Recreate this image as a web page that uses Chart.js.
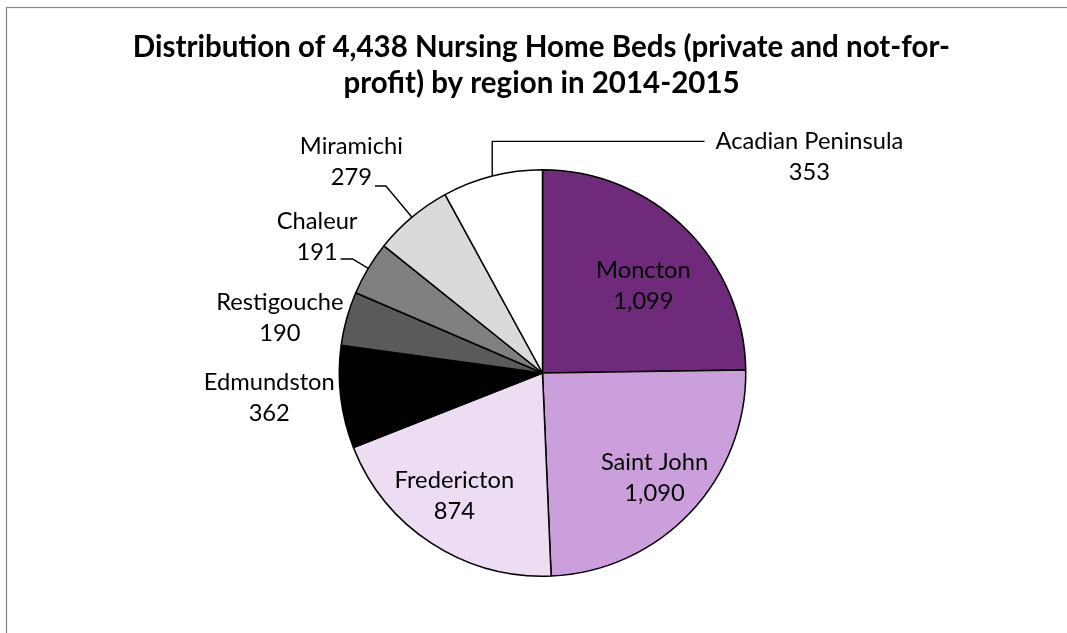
<!DOCTYPE html>
<html>
<head>
<meta charset="utf-8">
<script src="https://cdn.jsdelivr.net/npm/chart.js@4.4.0/dist/chart.umd.min.js"></script>
<style>
  html, body { margin: 0; padding: 0; background: #fff; }
  #wrap { width: 1067px; height: 633px; }
</style>
</head>
<body>
<div id="wrap"><canvas id="pieChart"></canvas></div>
<script>
// Datos del gráfico
const titleLines = ['Distribution of 4,438 Nursing Home Beds (private and not-for-', 'profit) by region in 2014-2015'];
const regions = ['Moncton', 'Saint John', 'Fredericton', 'Edmundston', 'Restigouche', 'Chaleur', 'Miramichi', 'Acadian Peninsula'];
const beds = [1099, 1090, 874, 362, 190, 191, 279, 353];
const sliceColors = ['#702A7B', '#CB9FDB', '#ECDDF2', '#000000', '#5A5A5A', '#808080', '#DADADA', '#FFFFFF'];

// Posición de cada etiqueta: factor de radio y ángulo (grados) desde el centro
const labelPlacement = [
    { f: 0.655, a: -40.7 },
    { f: 0.756, a: 43.2 },
    { f: 0.745, a: 125.6 },
    { f: 1.35, a: 174.8 },
    { f: 1.32, a: 191.8 },
    { f: 1.295, a: 211.1 },
    { f: 1.40, a: 227.8 },
    { f: 1.69, a: -39.0 }
];
// Líneas guía: 'bend' = diagonal + tramo horizontal, 'elbow' = vertical + horizontal
const leaders = [null, null, null, null, null, { type: 'bend', k: 1.09, h: 12 }, { type: 'bend', k: 1.2, h: 11 }, { type: 'elbow', gap: 11 }];

const labelFont = '23.7px Lato, "Open Sans", sans-serif';
const titleFont = 'bold 29.5px Lato, "Open Sans", sans-serif';

const fmt = v => v.toLocaleString('en-US');

const decorPlugin = {
    id: 'decor',
    beforeDraw(chart) {
        const ctx = chart.ctx;
        ctx.save();
        ctx.fillStyle = '#fff';
        ctx.fillRect(0, 0, chart.width, chart.height);
        ctx.strokeStyle = '#878787';
        ctx.lineWidth = 1.2;
        ctx.strokeRect(6.5, 7.5, chart.width + 10, chart.height + 10);
        // Título
        ctx.fillStyle = '#000';
        ctx.font = titleFont;
        ctx.textAlign = 'center';
        ctx.textBaseline = 'middle';
        const cx = (chart.chartArea.left + chart.chartArea.right) / 2;
        titleLines.forEach((t, i) => ctx.fillText(t, cx - 1, 47 + i * 36));
        ctx.restore();
    },
    afterDatasetsDraw(chart) {
        const ctx = chart.ctx;
        const arcs = chart.getDatasetMeta(0).data;
        ctx.save();
        ctx.font = labelFont;
        ctx.fillStyle = '#000';
        ctx.textAlign = 'center';
        ctx.textBaseline = 'middle';
        arcs.forEach((arc, i) => {
            const p = arc.getProps(['x', 'y', 'startAngle', 'endAngle', 'outerRadius'], true);
            const r = p.outerRadius;
            const ang = labelPlacement[i].a * Math.PI / 180;
            const lx = p.x + Math.cos(ang) * r * labelPlacement[i].f;
            const ly = p.y + Math.sin(ang) * r * labelPlacement[i].f;
            ctx.fillText(regions[i], lx, ly - 15.5);
            ctx.fillText(fmt(beds[i]), lx, ly + 15.5);

            const ld = leaders[i];
            if (!ld) return;
            const mid = (p.startAngle + p.endAngle) / 2;
            const ax = p.x + Math.cos(mid) * r;
            const ay = p.y + Math.sin(mid) * r;
            ctx.beginPath();
            ctx.strokeStyle = '#000';
            ctx.lineWidth = 1.4;
            if (ld.type === 'bend') {
                const ex = p.x + Math.cos(mid) * r * ld.k;
                const ey = p.y + Math.sin(mid) * r * ld.k;
                ctx.moveTo(ax, ay);
                ctx.lineTo(ex, ey);
                ctx.lineTo(ex - ld.h, ey);
            } else {
                const w = ctx.measureText(regions[i]).width;
                const ty = ly - 15.5;
                ctx.moveTo(ax, ay);
                ctx.lineTo(ax, ty);
                ctx.lineTo(lx - w / 2 - ld.gap, ty);
            }
            ctx.stroke();
        });
        ctx.restore();
    }
};

new Chart(document.getElementById('pieChart'), {
    type: 'pie',
    data: {
        labels: regions,
        datasets: [{
            data: beds,
            backgroundColor: sliceColors,
            borderColor: '#000',
            borderWidth: 1.5
        }]
    },
    options: {
        responsive: true,
        maintainAspectRatio: false,
        animation: false,
        layout: { padding: { top: 169, left: 338, right: 320, bottom: 56 } },
        plugins: {
            legend: { display: false },
            title: { display: false },
            tooltip: { enabled: false }
        }
    },
    plugins: [decorPlugin]
});
</script>
</body>
</html>
